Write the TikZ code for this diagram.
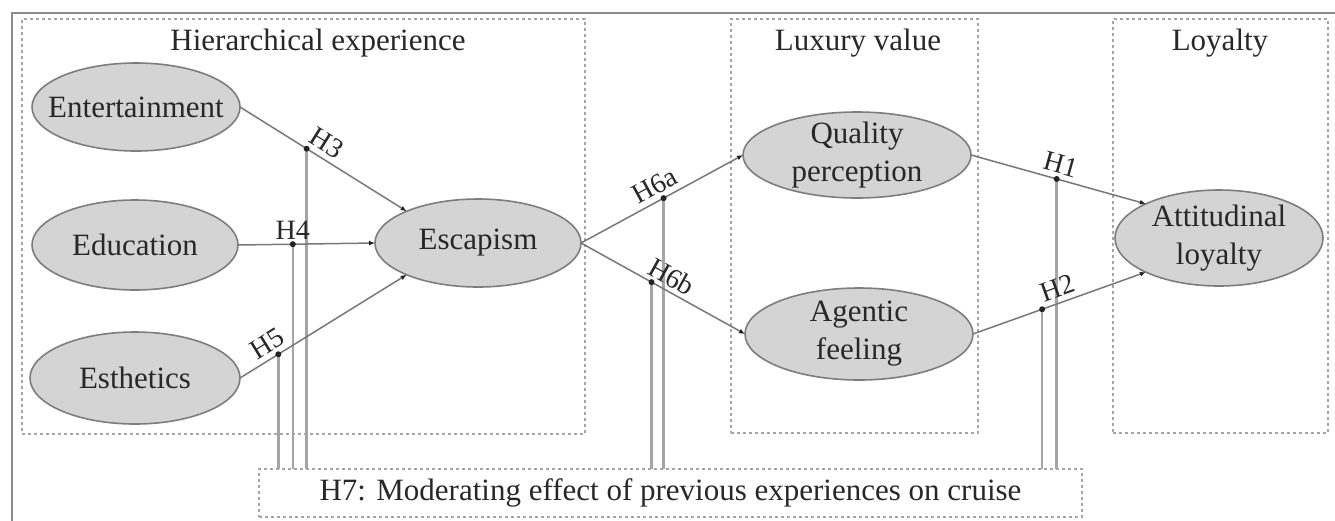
\documentclass[tikz,border=0pt]{standalone}
\usepackage{fontspec}
\setmainfont{Liberation Serif}
\usetikzlibrary{arrows.meta,shapes.geometric}
\definecolor{outerc}{RGB}{140,140,140}
\definecolor{dashc}{RGB}{165,165,165}
\definecolor{ellfill}{RGB}{212,212,212}
\definecolor{elldraw}{RGB}{125,125,125}
\definecolor{linec}{RGB}{120,120,120}
\definecolor{modc}{RGB}{165,165,165}
\definecolor{txtc}{RGB}{40,40,40}
\definecolor{dotc}{RGB}{35,35,35}
\begin{document}
\begin{tikzpicture}[x=1pt,y=-1pt,
  every node/.style={text=txtc},
  construct/.style={ellipse, draw=elldraw, fill=ellfill, line width=1.6pt, inner sep=0pt, outer sep=0pt},
  ctext/.style={font=\fontsize{31}{38}\selectfont, align=center, inner sep=0pt, text=txtc},
  groupbox/.style={draw=dashc, line width=1.3pt, dash pattern=on 3pt off 3pt, inner sep=0pt, outer sep=0pt},
  grouptitle/.style={font=\fontsize{31}{38}\selectfont, inner sep=0pt},
  hyparrow/.style={draw=linec, line width=1.5pt, -{Latex[length=6pt,width=5pt,color=dotc]}},
  hlabel/.style={font=\fontsize{28}{30}\selectfont, inner sep=1pt, text=txtc},
  modline/.style={draw=modc, line width=2.5pt},
  moddot/.style={fill=dotc}
]
\useasboundingbox (0,0) rectangle (1335,520);
\fill[white] (0,0) rectangle (1335,520);
% outer frame
\draw[outerc, line width=2pt] (12,13) rectangle (1345,535);
% group boxes
\node[groupbox, minimum width=563pt, minimum height=415pt] (hier) at (303.5,226.5) {};
\node[groupbox, minimum width=247pt, minimum height=414pt] (lux) at (854.5,226) {};
\node[groupbox, minimum width=215pt, minimum height=414pt] (loy) at (1220.5,226) {};
\node[groupbox, minimum width=823pt, minimum height=48pt, font=\fontsize{31}{38}\selectfont] (h7) at (670.5,493) {H7: Moderating effect of previous experiences on cruise};
% titles
\node[grouptitle] (hierT) at (318,43) {Hierarchical experience};
\node[grouptitle] (luxT) at (858,43) {Luxury value};
\node[grouptitle] (loyT) at (1220,43) {Loyalty};
% constructs
\node[construct, minimum width=208pt, minimum height=88pt, label={[ctext]center:Entertainment}] (ent) at (136,107) {};
\node[construct, minimum width=206pt, minimum height=90pt, label={[ctext]center:Education}] (edu) at (135,245) {};
\node[construct, minimum width=210pt, minimum height=92pt, label={[ctext]center:Esthetics}] (est) at (135,378) {};
\node[construct, minimum width=206pt, minimum height=88pt, label={[ctext]center:Escapism}] (esc) at (478,243) {};
\node[construct, minimum width=228pt, minimum height=86pt, label={[ctext]center:{Quality\\perception}}] (qua) at (857,155) {};
\node[construct, minimum width=228pt, minimum height=92pt, label={[ctext]center:{Agentic\\feeling}}] (agf) at (859,334) {};
\node[construct, minimum width=208pt, minimum height=96pt, label={[ctext]center:{Attitudinal\\loyalty}}] (att) at (1219,238) {};
% hypothesised paths (coordinates of the moderation points)
\path (ent.east) -- coordinate[pos=0.40] (d3) (esc.156);
\path (edu.east) -- coordinate[pos=0.40] (d4) (esc.west);
\path (est.east) -- coordinate[pos=0.23] (d5) (esc.204);
\path (esc.east) -- coordinate[pos=0.51] (d6a) (qua.west);
\path (esc.east) -- coordinate[pos=0.43] (d6b) (agf.west);
\path (qua.east) -- coordinate[pos=0.49] (d1) (att.155);
\path (agf.east) -- coordinate[pos=0.40] (d2) (att.205);
% moderating links
\foreach \d in {d3,d4,d5,d6a,d6b,d1,d2}{
  \draw[modline] (\d) -- (\d |- h7.north);
}
\draw[hyparrow] (ent.east) -- node[hlabel, pos=0.47, above=4pt, sloped] (l3) {H3} (esc.156);
\draw[hyparrow] (edu.east) -- node[hlabel, pos=0.40, above=3pt] (l4) {H4} (esc.west);
\draw[hyparrow] (est.east) -- node[hlabel, pos=0.21, above=4pt, sloped] (l5) {H5} (esc.204);
\draw[hyparrow] (esc.east) -- node[hlabel, pos=0.50, above=4pt, sloped] (l6a) {H6a} (qua.west);
\draw[hyparrow] (esc.east) -- node[hlabel, pos=0.51, above=3pt, sloped] (l6b) {H6b} (agf.west);
\draw[hyparrow] (qua.east) -- node[hlabel, pos=0.49, above=4pt, sloped] (l1) {H1} (att.155);
\draw[hyparrow] (agf.east) -- node[hlabel, pos=0.52, above=4pt, sloped] (l2) {H2} (att.205);
\foreach \d in {d3,d4,d5,d6a,d6b,d1,d2}{
  \fill[moddot] (\d) circle[radius=3pt];
}
\end{tikzpicture}
\end{document}
